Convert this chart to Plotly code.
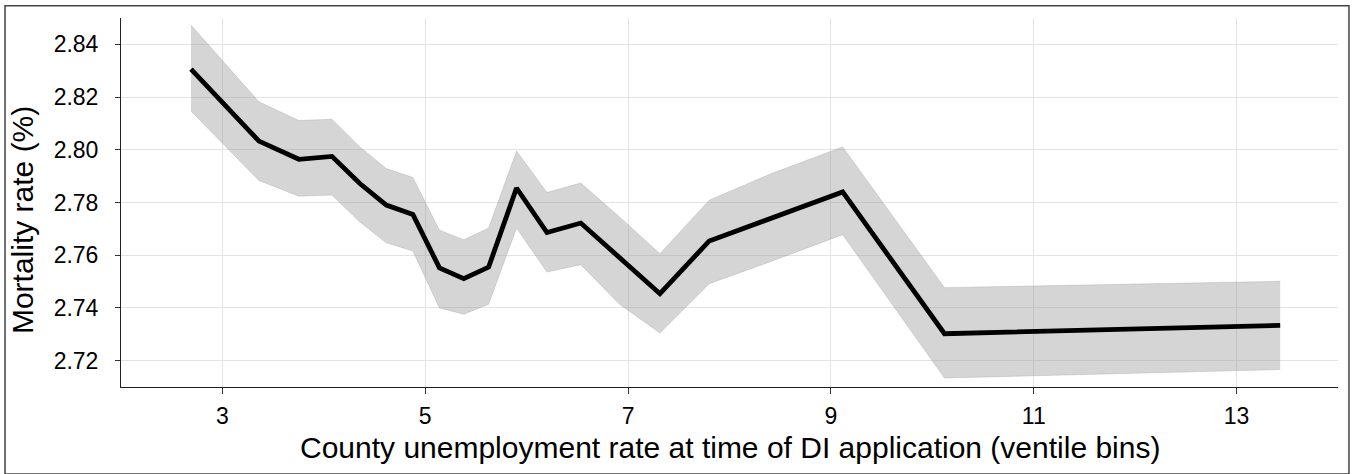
import plotly.graph_objects as go

unemp = [2.69, 3.36, 3.754, 4.08, 4.355, 4.616, 4.878, 5.14, 5.38, 5.625,
         5.90, 6.20, 6.534, 6.91, 7.314, 7.80, 8.415, 9.116, 10.12, 13.43]
mortality = [2.8306, 2.8033, 2.7964, 2.7975, 2.7872, 2.7790, 2.7755, 2.7552, 2.7511, 2.7555,
             2.7855, 2.7686, 2.7722, 2.7594, 2.7454, 2.7654, 2.7743, 2.7840, 2.7302, 2.7334]
upper = [2.8473, 2.8182, 2.8111, 2.8116, 2.8011, 2.7929, 2.7895, 2.7695, 2.7659, 2.7703,
         2.7995, 2.7838, 2.7874, 2.7747, 2.7606, 2.7809, 2.7910, 2.8011, 2.7477, 2.7501]
lower = [2.8147, 2.7883, 2.7824, 2.7828, 2.7726, 2.7647, 2.7616, 2.7400, 2.7376, 2.7414,
         2.7703, 2.7536, 2.7564, 2.7416, 2.7305, 2.7492, 2.7577, 2.7678, 2.7134, 2.7166]
x_ticks = [3, 5, 7, 9, 11, 13]
y_ticks = [2.72, 2.74, 2.76, 2.78, 2.80, 2.82, 2.84]
x_title = "County unemployment rate at time of DI application (ventile bins)"
y_title = "Mortality rate (%)"

FONT = "Liberation Sans, Arial, sans-serif"

fig = go.Figure()
fig.add_trace(go.Scatter(x=unemp, y=lower, mode="lines",
                         line=dict(color="rgba(140,140,140,0.45)", width=0.6),
                         showlegend=False, hoverinfo="skip"))
fig.add_trace(go.Scatter(x=unemp, y=upper, mode="lines", fill="tonexty",
                         fillcolor="rgba(150,150,150,0.4)",
                         line=dict(color="rgba(140,140,140,0.45)", width=0.6),
                         showlegend=False, hoverinfo="skip"))
fig.add_trace(go.Scatter(x=unemp, y=mortality, mode="lines",
                         line=dict(color="black", width=4.8),
                         showlegend=False))

fig.update_layout(
    width=1353, height=474,
    margin=dict(l=121, r=15, t=18, b=87),
    paper_bgcolor="white", plot_bgcolor="white",
    font=dict(family=FONT, color="black"),
    xaxis=dict(range=[2, 14], tickvals=x_ticks, ticktext=[str(v) for v in x_ticks],
               showgrid=True, gridcolor="#e3e3e3", gridwidth=1,
               showline=True, linecolor="#222", linewidth=1,
               ticks="outside", ticklen=6, tickcolor="#333", tickwidth=1,
               tickfont=dict(size=23, family=FONT, color="black"),
               ticklabelstandoff=2,
               zeroline=False),
    yaxis=dict(range=[2.71, 2.85], tickvals=y_ticks, ticktext=[f"{v:.2f}" for v in y_ticks],
               showgrid=True, gridcolor="#e3e3e3", gridwidth=1,
               showline=True, linecolor="#222", linewidth=1,
               ticks="outside", ticklen=5, tickcolor="#333", tickwidth=1,
               tickfont=dict(size=23, family=FONT, color="black"),
               ticklabelstandoff=12,
               zeroline=False),
    annotations=[
        dict(text=x_title, xref="paper", yref="paper", x=0.5, y=-0.1637,
             xanchor="center", yanchor="middle", showarrow=False,
             font=dict(size=30, family=FONT, color="black")),
        dict(text=y_title, xref="paper", yref="paper", x=-0.0813, y=0.4525,
             xanchor="center", yanchor="middle", showarrow=False, textangle=-90,
             font=dict(size=30, family=FONT, color="black")),
    ],
    shapes=[dict(type="rect", xref="paper", yref="paper",
                 x0=-0.0953, x1=1.0090, y0=-0.2356, y1=1.0334,
                 line=dict(color="#444", width=1.5), fillcolor="rgba(0,0,0,0)",
                 layer="above")],
)

fig.write_html("out.html")
